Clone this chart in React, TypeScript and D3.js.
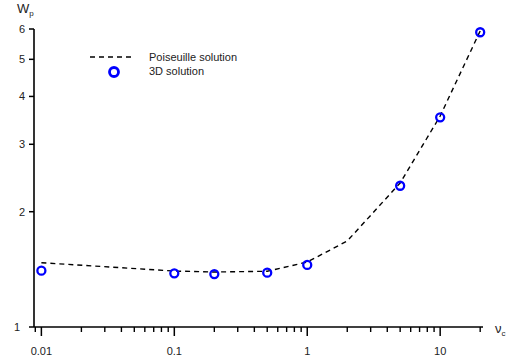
import React from 'react';
import * as d3 from 'd3';

// Poiseuille (analytic) curve
const nuPoiseuille = [0.01, 0.1, 0.2, 0.5, 1, 2, 5, 10, 20];
const wPoiseuille = [1.472, 1.4, 1.392, 1.398, 1.478, 1.677, 2.377, 3.556, 5.93];

// 3D simulation points
const nu3D = [0.01, 0.1, 0.2, 0.5, 1, 5, 10, 20];
const w3D = [1.403, 1.381, 1.375, 1.386, 1.452, 2.338, 3.528, 5.884];

const xMajor = [0.01, 0.1, 1, 10];
const xMajorLabels = ['0.01', '0.1', '1', '10'];
const yTicks = [1, 2, 3, 4, 5, 6];
const yTickLabels = ['1', '2', '3', '4', '5', '6'];

const legendLabels = ['Poiseuille solution', '3D solution'];

const width = 506;
const height = 361;
const font = 'Liberation Sans, Arial, sans-serif';

const App: React.FC = () => {
  const x = d3.scaleLog().domain([0.0088, 21]).range([34, 483]);
  const y = d3.scaleLog().domain([1, 6]).range([327, 29]);

  // minor ticks: every integer multiple inside the domain, except majors
  const minor: number[] = [];
  [0.001, 0.01, 0.1, 1, 10].forEach((dec) => {
    for (let k = 2; k <= 9; k++) {
      const v = dec * k;
      if (v >= x.domain()[0] && v <= x.domain()[1]) minor.push(v);
    }
  });

  const line = d3
    .line<number>()
    .x((_, i) => x(nuPoiseuille[i]))
    .y((d) => y(d));

  const x0 = x.range()[0];
  const yBase = y.range()[0];

  return (
    <svg
      width={width}
      height={height}
      style={{ position: 'absolute', left: 0, top: 0, background: '#fff' }}
      fontFamily={font}
    >
      {/* axes */}
      <line x1={x0} x2={x.range()[1]} y1={yBase} y2={yBase} stroke="#000" strokeWidth={1.6} />
      <line x1={x0} x2={x0} y1={y(6)} y2={yBase} stroke="#000" strokeWidth={1.6} />

      {minor.map((v) => (
        <line key={'m' + v} x1={x(v)} x2={x(v)} y1={yBase} y2={yBase + 5} stroke="#000" strokeWidth={1.4} />
      ))}
      {xMajor.map((v, i) => (
        <g key={'x' + v}>
          <line x1={x(v)} x2={x(v)} y1={yBase} y2={yBase + 9} stroke="#000" strokeWidth={1.5} />
          <text x={x(v)} y={yBase + 28} fontSize={11} textAnchor="middle" fill="#222">
            {xMajorLabels[i]}
          </text>
        </g>
      ))}
      {yTicks.map((v, i) => (
        <g key={'y' + v}>
          <line x1={x0 - 5} x2={x0} y1={y(v)} y2={y(v)} stroke="#000" strokeWidth={1.5} />
          <text
            x={v === 1 ? 20 : 25}
            y={y(v) + 4}
            fontSize={11}
            textAnchor="end"
            fill="#222"
          >
            {yTickLabels[i]}
          </text>
        </g>
      ))}

      {/* axis titles */}
      <text x={17} y={13} fontSize={13} fill="#222">
        W<tspan fontSize={8} dy={3}>p</tspan>
      </text>
      <text x={495} y={333} fontSize={13} fill="#222">
        ν<tspan fontSize={8} dy={3}>c</tspan>
      </text>

      {/* Poiseuille curve */}
      <path
        d={line(wPoiseuille) as string}
        fill="none"
        stroke="#000"
        strokeWidth={1.4}
        strokeDasharray="5,4"
      />

      {/* 3D points */}
      {w3D.map((v, i) => (
        <circle key={'c' + i} cx={x(nu3D[i])} cy={y(v)} r={4} fill="none" stroke="#0000ff" strokeWidth={2.3} />
      ))}

      {/* legend */}
      <line x1={90} x2={135} y1={57} y2={57} stroke="#000" strokeWidth={1.4} strokeDasharray="5,4" />
      <text x={149} y={61} fontSize={11} fill="#222">
        {legendLabels[0]}
      </text>
      <circle cx={114} cy={72} r={4.5} fill="none" stroke="#0000ff" strokeWidth={2.8} />
      <text x={149} y={75} fontSize={11} fill="#222">
        {legendLabels[1]}
      </text>
    </svg>
  );
};

export default App;
